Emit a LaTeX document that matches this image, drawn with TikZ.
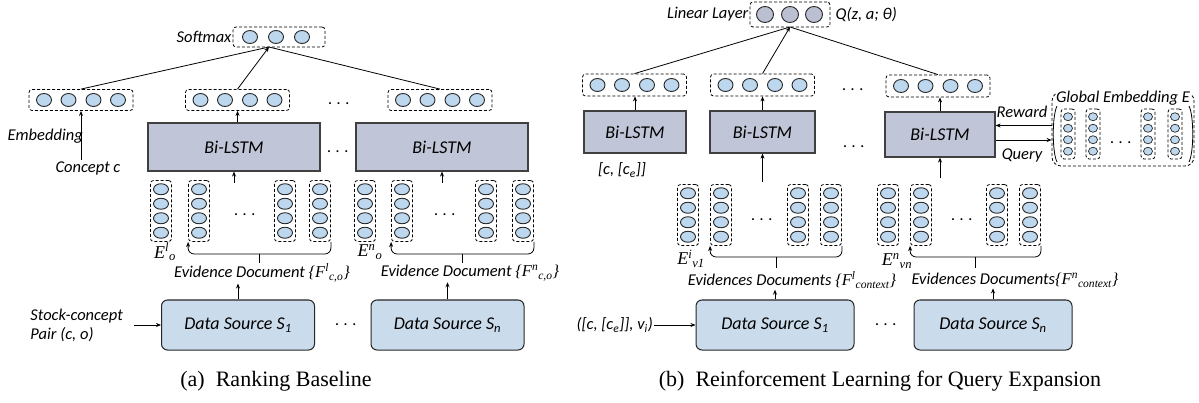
\documentclass[tikz,border=0pt]{standalone}
\usepackage{fontspec}
\setmainfont{Liberation Serif}
\newfontfamily\calfont{Carlito}
\usepackage{tikz}
\usetikzlibrary{arrows.meta}
\usetikzlibrary{shapes.geometric}

\definecolor{ballblue}{RGB}{189,215,238}
\definecolor{lstmgray}{RGB}{192,197,215}
\definecolor{srcblue}{RGB}{202,219,236}
\definecolor{lingray}{RGB}{186,191,210}

\begin{document}
\begin{tikzpicture}
[x=1pt,y=-1pt,>={Stealth[length=5pt,width=4pt]},
 lbl/.style={font=\calfont\itshape\fontsize{16.5}{19}\selectfont,inner sep=1pt},
 dots/.style={lbl,node contents={.\hspace{4.5pt}.\hspace{4.5pt}.}},
 evl/.style={font=\rmfamily\itshape\fontsize{18}{20}\selectfont,inner sep=0pt},
 captxt/.style={font=\rmfamily\fontsize{22}{26}\selectfont},
 ball/.style={ellipse,draw=black!85,fill=ballblue,line width=0.9pt,minimum width=15pt,minimum height=13pt,inner sep=0pt},
 sball/.style={ball,minimum height=11pt},
 tball/.style={ball,minimum width=9pt,minimum height=8pt,line width=0.7pt},
 gball/.style={ball,fill=lingray,minimum width=17pt,minimum height=16pt},
 dbox/.style={draw,rounded corners=3pt,line width=0.8pt,dash pattern=on 3pt off 2pt},
 lstm/.style={lbl,font=\calfont\itshape\fontsize{18}{21}\selectfont,draw=black!75,fill=lstmgray,line width=1.2pt,minimum height=48pt},
 src/.style={lbl,font=\calfont\itshape\fontsize{18}{21}\selectfont,draw=black!85,fill=srcblue,rounded corners=6pt,line width=1pt,minimum width=153pt,minimum height=50pt}]
\useasboundingbox (0,0) rectangle (1199,403);

% (a) ranking baseline
\node[dbox,minimum width=92pt,minimum height=20pt] (smax) at (279,37) {};
\node[ball] (sm1) at (250,37) {};
\node[ball] (sm2) at (276,37) {};
\node[ball] (sm3) at (302,37) {};
\node[lbl,anchor=east] (smaxl) at (smax.west) {Softmax};
\coordinate (smin) at (269,47);

\foreach \n/\x in {ea/81,eb/237.5,ec/440}{
  \node[dbox,minimum width=104pt,minimum height=21pt] (\n) at (\x,100) {};
  \foreach \k/\d in {1/-37,2/-12.5,3/12.5,4/37}
    \node[ball] (\n\k) at ({\x+(\d)},100) {};
}
\node (dt1) at (339,104) [dots];
\node[lstm,minimum width=172pt] (la) at (234,147) {Bi-LSTM};
\node[lstm,minimum width=172pt] (lb) at (442,147) {Bi-LSTM};
\node (dt2) at (338,152) [dots];
\node[lbl,anchor=east] (embl) at (84,136) {Embedding};
\node[lbl] (cc) at (88,168) {Concept c};

\path[line width=0.8pt]
(ea.north) edge (smin)
(ec.north) edge (smin)
(eb.north) edge[->] (smin)
(cc.north -| ea.south) edge[->] (ea.south)
(eb.south |- la.north) edge[->] (eb.south);

% evidence columns
\foreach \n/\x/\y in {la1/161/211,la2/199/211,la3/285/211,la4/320/211,
                       lb1/365/211,lb2/402/211,lb3/486/211,lb4/523/211,
                       ra1/688/215,ra2/721/215,ra3/798/215,ra4/831/215,
                       rb1/888/215,rb2/921/215,rb3/997/215,rb4/1030/215}{
  \node[dbox,minimum width=21pt,minimum height=61pt] (\n) at (\x,\y) {};
  \foreach \k in {1,...,4}
    \node[sball] (\n-\k) at (\x,{\y+(\k-2.5)*14.5}) {};
}
\node (dt3) at (245,215) [dots];
\node (dt4) at (445,215) [dots];
\node[evl] (el1) at (165,252) {E\textsuperscript{l}\textsubscript{o}};
\node[evl] (el2) at (370,252) {E\textsuperscript{n}\textsubscript{o}};

\coordinate (ba) at (259.5,254);
\coordinate (bas) at (259.5,263);
\coordinate (bb) at (462.5,254);
\coordinate (bbs) at (462.5,263);
\draw[<-,rounded corners=6pt,line width=0.8pt] (la2.south west) |- (la4.south east |- ba) -- (la4.south east);
\draw[<-,rounded corners=6pt,line width=0.8pt] (lb2.south west) |- (lb4.south east |- bb) -- (lb4.south east);
\draw[line width=0.8pt] (ba) -- (bas) (bb) -- (bbs);
\coordinate (lain) at (234,183);
\coordinate (lbin) at (442,183);
\draw[->,line width=0.8pt] (lain) -- (la.south);
\draw[->,line width=0.8pt] (lbin) -- (lb.south);

\node[lbl] (dl1) at (262,273) {Evidence Document {\rmfamily\{F\textsuperscript{l}\textsubscript{c,o}\}}};
\node[lbl] (dl2) at (470,273) {Evidence Document {\rmfamily\{F\textsuperscript{n}\textsubscript{c,o}\}}};

\node[src] (sa) at (238,325) {Data Source S\textsubscript{1}};
\node[src] (sb) at (447.5,325) {Data Source S\textsubscript{n}};
\node (dt5) at (346,325) [dots];
\node[lbl,align=left,anchor=east] (inp) at (124,325) {Stock-concept\\Pair (c, o)};
\path[line width=0.8pt]
(inp.east) edge[->,shorten <=10pt] (sa.west)
(sa.north) edge[->] (sa.north |- dl1.south)
(sb.north) edge[->] (sb.north |- dl2.south);

\node[captxt] (capa) at (276,381) {(a)\enspace Ranking Baseline};

% (b) reinforcement learning
\node[dbox,minimum width=80pt,minimum height=25pt] (lin) at (790,14.5) {};
\node[gball] (ln1) at (765,14.5) {};
\node[gball] (ln2) at (790,14.5) {};
\node[gball] (ln3) at (814,14.5) {};
\node[lbl,anchor=east] (linl) at (lin.west) {Linear Layer};
\node[lbl,anchor=west,inner sep=5pt] (qval) at (lin.east) {Q(z, a; θ)};
\coordinate (linin) at (790,27);

\foreach \n/\x/\y in {fa/634.5/85,fb/762.5/85,fc/938/86}{
  \node[dbox,minimum width=104pt,minimum height=22pt] (\n) at (\x,\y) {};
  \foreach \k/\d in {1/-37,2/-12.5,3/12.5,4/37}
    \node[ball] (\n\k) at ({\x+(\d)},\y) {};
}
\node (dt6) at (853,90) [dots];
\node[lstm,minimum width=102pt,minimum height=42pt] (lc) at (635,132) {Bi-LSTM};
\node[lstm,minimum width=105pt,minimum height=42pt] (ld) at (762.5,132) {Bi-LSTM};
\node[lstm,minimum width=110pt,minimum height=45pt] (le) at (940,134.5) {Bi-LSTM};
\node (dt7) at (854,147) [dots];
\node[lbl] (cce) at (622,170) {[c, [c\textsubscript{e}]]};

\path[line width=0.8pt]
(fa.north) edge (linin)
(fc.north) edge (linin)
(fb.north) edge[->] (linin)
(lc.north) edge[->] (lc.north |- fa.south)
(ld.north) edge[->] (ld.north |- fb.south)
(le.north) edge[->] (le.north |- fc.south);

% global embedding
\node[dbox,rounded corners=9pt,minimum width=142pt,minimum height=74pt] (ge) at (1123,129) {};
\draw[line width=0.8pt] (1057,106) .. controls (1052,116) and (1052,152) .. (1057,162)
                        (1189,106) .. controls (1194,116) and (1194,152) .. (1189,162);
\node[lbl,fill=white,inner sep=0.5pt] (gel) at (1123,98) {Global Embedding E};
\foreach \n/\x in {g1/1068,g2/1093,g3/1148,g4/1175}{
  \node[dbox,minimum width=14pt,minimum height=50pt] (\n) at (\x,134) {};
  \foreach \k in {1,...,4}
    \node[tball] (\n-\k) at (\x,{134+(\k-2.5)*11.5}) {};
}
\node (dt8) at (1121,143) [dots];
\coordinate (rw) at ([yshift=9pt]le.east);
\coordinate (qy) at ([yshift=-5.5pt]le.east);
\draw[->,line width=0.8pt] (rw -| ge.west) -- (rw);
\draw[->,line width=0.8pt] (qy) -- (qy -| ge.west);
\node[lbl] (rwl) at (1022,112) {Reward};
\node[lbl] (qyl) at (1022,155) {Query};

\node (dt9) at (762,220) [dots];
\node (dt10) at (962,220) [dots];
\node[evl] (el3) at (691,259) {E\textsuperscript{i}\textsubscript{v1}};
\node[evl] (el4) at (897,261) {E\textsuperscript{n}\textsubscript{vn}};

\coordinate (bc) at (776,257);
\coordinate (bcs) at (776,268);
\coordinate (bd) at (975.5,257);
\coordinate (bds) at (975.5,268);
\draw[<-,rounded corners=6pt,line width=0.8pt] (ra2.south west) |- (ra4.south east |- bc) -- (ra4.south east);
\draw[<-,rounded corners=6pt,line width=0.8pt] (rb2.south west) |- (rb4.south east |- bd) -- (rb4.south east);
\draw[line width=0.8pt] (bc) -- (bcs) (bd) -- (bds);
\coordinate (ldin) at (762.5,182);
\coordinate (lein) at (940,178);
\draw[->,line width=0.8pt] (ldin) -- (ld.south);
\draw[->,line width=0.8pt] (lein) -- (le.south);

\node[lbl] (dl3) at (792,280) {Evidences Documents {\rmfamily\{F\textsuperscript{l}\textsubscript{context}\}}};
\node[lbl] (dl4) at (1015,280) {Evidences Documents{\rmfamily\{F\textsuperscript{n}\textsubscript{context}\}}};

\node[src,minimum width=158pt] (sc) at (775,325) {Data Source S\textsubscript{1}};
\node[src,minimum width=158pt] (sd) at (993,325) {Data Source S\textsubscript{n}};
\node (dt11) at (886,325) [dots];
\node[lbl,anchor=east] (inq) at (654,325) {([c, [c\textsubscript{e}]], v\textsubscript{i})};
\path[line width=0.8pt]
(inq.east) edge[->] (sc.west)
(sc.north) edge[->] (sc.north |- dl3.south)
(sd.north) edge[->] (sd.north |- dl4.south);

\node[captxt] (capb) at (880,381) {(b)\enspace Reinforcement Learning for Query Expansion};
\end{tikzpicture}
\end{document}
